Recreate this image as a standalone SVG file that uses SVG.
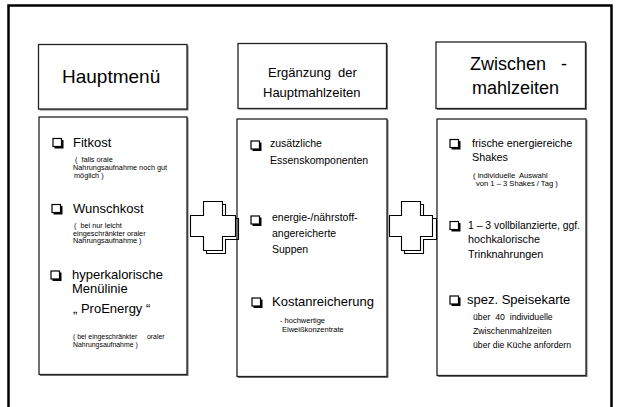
<svg xmlns="http://www.w3.org/2000/svg" width="618" height="407" viewBox="0 0 618 407">
<defs>
<style>
text{font-family:"Liberation Sans",Arial,sans-serif;fill:#000;font-weight:400}
.box{fill:#fff;stroke:#222;stroke-width:1.3}
.sh{fill:#777}
.h18{font-size:18px}
.h19{font-size:19px}
.h13{font-size:13px}
.t13{font-size:13px}
.t105{font-size:10.5px}
.t11{font-size:10.8px}
.s73{font-size:7.3px}
.s76{font-size:7.6px}
.s75{font-size:7.5px}
.s86{font-size:8.7px}
.cbs{fill:#000}
.cb{fill:#fff;stroke:#000;stroke-width:1.2}
.plus{fill:#fff;stroke:#000;stroke-width:1.1}
.plussh{fill:none;stroke:#000;stroke-width:1.1}
</style>
<g id="chk">
<rect class="cbs" x="1.5" y="1.5" width="9" height="8.5"/>
<rect class="cb" x="0" y="0" width="8.5" height="8"/>
</g>
</defs>
<rect x="0" y="0" width="618" height="407" fill="#fff"/>
<rect x="8.5" y="5.5" width="603" height="410" fill="none" stroke="#000" stroke-width="2.5"/>

<g id="hauptmenue-header">
<rect class="sh" x="39.5" y="45.5" width="149" height="65"/>
<rect class="box" x="38.5" y="44.5" width="148.5" height="64.5"/>
<text class="h19" x="62" y="83">Hauptmenü</text>
</g>
<g id="ergaenzung-header">
<rect class="sh" x="239" y="44.5" width="149" height="65"/>
<rect class="box" x="238" y="43.5" width="148.5" height="65"/>
<text class="h13" x="268" y="77" xml:space="preserve">Ergänzung  der</text>
<text class="h13" x="263" y="97">Hauptmahlzeiten</text>
</g>
<g id="zwischen-header">
<rect class="sh" x="437" y="43" width="150" height="67"/>
<rect class="box" x="436" y="42" width="149.5" height="66.5"/>
<text class="h18" x="470" y="70" xml:space="preserve">Zwischen   -</text>
<text class="h18" x="472" y="94">mahlzeiten</text>
</g>

<g id="hauptmenue-content">
<rect class="sh" x="40" y="118" width="148.5" height="258"/>
<rect class="box" x="39" y="117" width="148" height="257.5"/>
<use href="#chk" x="53" y="138.5"/>
<text class="t13" x="73" y="147">Fitkost</text>
<text class="s73" x="75" y="162" xml:space="preserve">(  falls orale</text>
<text class="s73" x="73" y="170">Nahrungsaufnahme noch gut</text>
<text class="s73" x="74" y="177.5">möglich )</text>
<use href="#chk" x="52" y="204.5"/>
<text class="t13" x="73" y="213">Wunschkost</text>
<text class="s73" x="74" y="228" xml:space="preserve">(  bei nur leicht</text>
<text class="s73" x="73" y="235.5">eingeschränkter oraler</text>
<text class="s73" x="73" y="243">Nahrungsaufnahme )</text>
<use href="#chk" x="51" y="271"/>
<text class="t13" x="72" y="279">hyperkalorische</text>
<text class="t13" x="72" y="293">Menülinie</text>
<text class="t13" x="73" y="313">„ ProEnergy “</text>
<text class="s73" x="73" y="339" xml:space="preserve" style="font-size:6.9px">( bei eingeschränkter     oraler</text>
<text class="s73" x="73" y="346.5" style="font-size:6.9px">Nahrungsaufnahme )</text>
</g>

<g id="ergaenzung-content">
<rect class="sh" x="238" y="120" width="150.5" height="258"/>
<rect class="box" x="237" y="119" width="150" height="257.5"/>
<use href="#chk" x="251" y="141"/>
<text class="t105" x="270" y="147">zusätzliche</text>
<text class="t105" x="270" y="164">Essenskomponenten</text>
<use href="#chk" x="251" y="216"/>
<text class="t105" x="272" y="221">energie-/nährstoff-</text>
<text class="t105" x="272" y="237">angereicherte</text>
<text class="t105" x="272" y="253">Suppen</text>
<use href="#chk" x="252" y="298"/>
<text class="t13" x="272" y="306">Kostanreicherung</text>
<text class="s75" x="280" y="323">- hochwertige</text>
<text class="s75" x="282" y="332">Eiweißkonzentrate</text>
</g>

<g id="zwischen-content">
<rect class="sh" x="438" y="120" width="149.5" height="257"/>
<rect class="box" x="437" y="119" width="149" height="256.5"/>
<use href="#chk" x="450" y="139.5"/>
<text class="t11" x="472" y="147">frische energiereiche</text>
<text class="t11" x="472" y="161">Shakes</text>
<text class="s76" x="473" y="178" xml:space="preserve">( individuelle  Auswahl</text>
<text class="s76" x="476" y="186">von 1 – 3 Shakes / Tag )</text>
<use href="#chk" x="450" y="221.5"/>
<text class="t11" x="468" y="229" style="font-size:10.4px">1 – 3 vollbilanzierte, ggf.</text>
<text class="t11" x="468" y="243">hochkalorische</text>
<text class="t11" x="468" y="258">Trinknahrungen</text>
<use href="#chk" x="450" y="296"/>
<text class="t13" x="467" y="304">spez. Speisekarte</text>
<text class="s86" x="473" y="320" xml:space="preserve">über  40  individuelle</text>
<text class="s86" x="473" y="334">Zwischenmahlzeiten</text>
<text class="s86" x="473" y="348">über die Küche anfordern</text>
</g>

<g id="connectors">
<g id="plus-left">
<path class="plussh" d="M 205 203 h 19 v 14 h 13 v 21 h -13 v 14 h -19 Z" transform="translate(1.5,1.5)"/>
<path class="plus" d="M 203.5 201.5 h 19 v 14 h 13 v 21 h -13 v 14 h -19 v -14 h -13 v -21 h 13 Z"/>
</g>
<g id="plus-right">
<path class="plussh" d="M 403 203 h 19 v 14 h 13 v 21 h -13 v 14 h -19 Z" transform="translate(1.5,1.5)"/>
<path class="plus" d="M 401.5 201.5 h 19 v 14 h 12 v 21 h -12 v 14 h -19 v -14 h -12 v -21 h 12 Z"/>
</g>
</g>
</svg>
